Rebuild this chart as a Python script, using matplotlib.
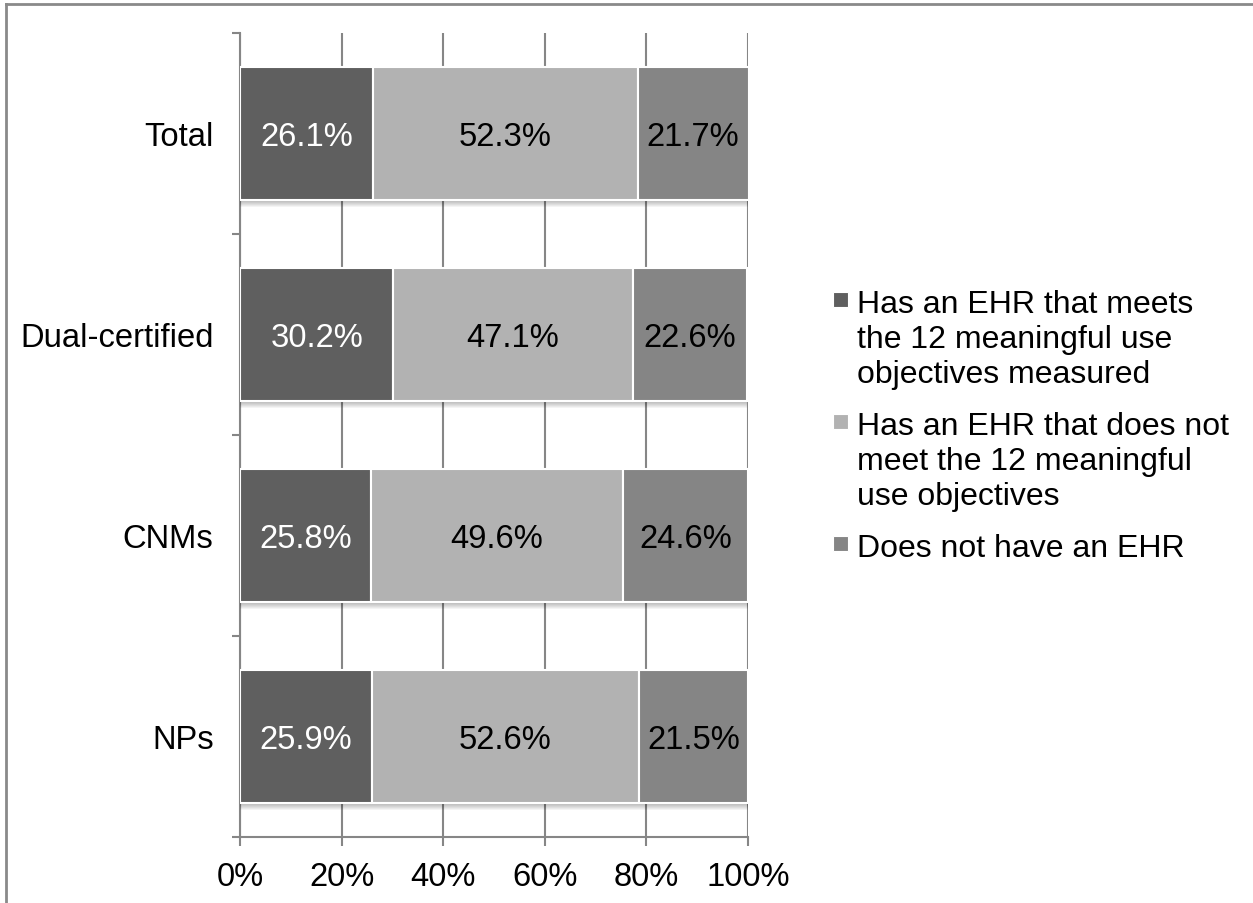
import numpy as np
import matplotlib.pyplot as plt
import matplotlib.patheffects as pe
from matplotlib.lines import Line2D
from matplotlib.patches import Rectangle
from matplotlib.ticker import PercentFormatter

plt.rcParams['font.family'] = ['Liberation Sans', 'DejaVu Sans']

# bottom to top on the chart
groups = ["NPs", "CNMs", "Dual-certified", "Total"]
meets = [25.9, 25.8, 30.2, 26.1]
not_meets = [52.6, 49.6, 47.1, 52.3]
no_ehr = [21.5, 24.6, 22.6, 21.7]

series = [meets, not_meets, no_ehr]
series_names = ["Has an EHR that meets\nthe 12 meaningful use\nobjectives measured",
                "Has an EHR that does not\nmeet the 12 meaningful\nuse objectives",
                "Does not have an EHR"]
colors = ["#5f5f5f", "#b2b2b2", "#858585"]
label_colors = ["white", "black", "black"]
grey = "#868686"
fs = 23.6
fs_leg = 23

W, H = 1253, 904
fig = plt.figure(figsize=(W / 100, H / 100), dpi=100)
ax = fig.add_axes([240 / W, 66 / H, 508 / W, 804 / H])

# soft drop shadow under each bar segment
shadow = [pe.SimplePatchShadow(offset=(0, -k), shadow_rgbFace="black", alpha=0.045)
          for k in (0.7, 1.4, 2.1, 2.8, 3.5, 4.2, 5.0)] + [pe.Normal()]

y = np.arange(len(groups))
left = np.zeros(len(groups))
for vals, col, lcol in zip(series, colors, label_colors):
    bars = ax.barh(y, vals, left=left, height=0.66, color=col,
                   edgecolor="white", linewidth=1.5, zorder=3)
    for b in bars:
        b.set_path_effects(shadow)
    labels = ax.bar_label(bars, fmt="%.1f%%", label_type="center", color=lcol,
                          fontsize=fs, zorder=4)
    for t in labels:
        t.set_va("center_baseline")
    left += np.array(vals)

ax.set_xlim(0, 100)
ax.set_ylim(-0.5, len(groups) - 0.5)
ax.set_xticks(np.arange(0, 101, 20))
ax.xaxis.set_major_formatter(PercentFormatter(decimals=0))
ax.set_yticks(y)
ax.set_yticklabels(groups)
ax.set_yticks(np.arange(-0.5, len(groups)), minor=True)

ax.xaxis.grid(True, color=grey, linewidth=1.5)
ax.set_axisbelow(True)
for s in ("top", "right"):
    ax.spines[s].set_visible(False)
for s in ("left", "bottom"):
    ax.spines[s].set_color(grey)
    ax.spines[s].set_linewidth(1.5)

ax.tick_params(axis="x", direction="out", length=6.5, width=1.5, color=grey,
               pad=10.5, labelsize=fs)
ax.tick_params(axis="y", which="major", length=0, pad=19, labelsize=fs)
ax.tick_params(axis="y", which="minor", direction="out", length=6, width=1.5,
               color=grey)

# legend, drawn by hand so markers sit on the first line of each entry
first_baselines = [313, 435, 557]
for name, col, yb in zip(series_names, colors, first_baselines):
    fig.text(857 / W, 1 - (yb - 23) / H, name, fontsize=fs_leg, va="top",
             ha="left", linespacing=1.22)
    fig.add_artist(Rectangle((833 / W, 1 - (yb - 5) / H), 15 / W, 15 / H,
                             transform=fig.transFigure, facecolor=col,
                             edgecolor="white", linewidth=0.8))

# frame lines along the top and left edge
fig.add_artist(Line2D([6 / W, 1], [1 - 4.5 / H, 1 - 4.5 / H],
                      transform=fig.transFigure, color="#8a8a8a", lw=2))
fig.add_artist(Line2D([6 / W, 6 / W], [0, 1 - 4.5 / H],
                      transform=fig.transFigure, color="#8a8a8a", lw=2))

fig.savefig("out.png", dpi=100)
